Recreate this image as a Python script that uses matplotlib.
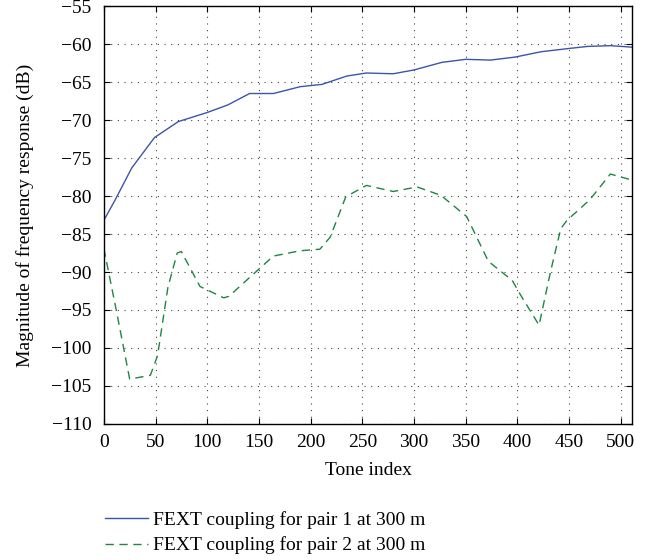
import matplotlib.pyplot as plt

plt.rcParams['font.family'] = ['Liberation Serif', 'DejaVu Serif']

# pair 1 (solid blue)
tone1 = [0, 11, 27, 49, 72, 100, 120, 141, 164, 190, 211, 235, 254, 280, 300,
         327, 350, 374, 398, 423, 448, 468, 490, 511]
mag1 = [-83.2, -80.5, -76.3, -72.3, -70.2, -69.0, -68.0, -66.5, -66.5, -65.6,
        -65.3, -64.2, -63.8, -63.9, -63.4, -62.4, -62.0, -62.1, -61.7, -61.0,
        -60.6, -60.3, -60.2, -60.4]

# pair 2 (dashed green)
tone2 = [0, 12, 25, 45, 52, 62, 71, 75, 93, 116, 121, 142, 164, 190, 209, 219,
         234, 254, 280, 303, 326, 351, 372, 395, 403, 421, 432, 442, 448, 470,
         490, 511]
mag2 = [-86.9, -95.0, -104.1, -103.6, -101.0, -92.0, -87.5, -87.3, -91.9, -93.4,
        -93.2, -90.6, -87.9, -87.2, -87.0, -85.4, -80.1, -78.6, -79.4, -78.8,
        -79.9, -82.7, -88.6, -91.1, -93.0, -97.0, -90.0, -84.3, -83.2, -80.5,
        -77.1, -77.9]

labels = ["FEXT coupling for pair 1 at 300 m", "FEXT coupling for pair 2 at 300 m"]

fig = plt.figure(figsize=(6.53, 5.6), dpi=100)
ax = fig.add_axes([0.159, 0.243, 0.809, 0.746])

ax.plot(tone1, mag1, color='#3b55aa', lw=1.0, label=labels[0])
ax.plot(tone2, mag2, color='#1e8545', lw=1.0, ls=(0, (6, 4)), label=labels[1])

ax.set_xlim(0, 511)
ax.set_ylim(-110, -55)
ax.set_xticks(range(0, 501, 50))
ax.set_yticks(range(-110, -54, 5))
ax.tick_params(direction='in', top=True, right=True, labelsize=14, length=4)
ax.tick_params(axis='y', pad=9)
ax.tick_params(axis='x', pad=7)
ax.grid(True, color='#444444', ls=(0, (1, 5)), lw=0.8)
for s in ax.spines.values():
    s.set_linewidth(1.0)

ax.set_xlabel("Tone index", fontsize=14, labelpad=8)
ax.set_ylabel("Magnitude of frequency response (dB)", fontsize=14, labelpad=12)

fig.legend(loc='upper left', bbox_to_anchor=(0.146, 0.105), frameon=False,
           fontsize=14, handlelength=2.2, handletextpad=0.25,
           labelspacing=0.4, borderpad=0)

fig.savefig("out.png", dpi=100)
